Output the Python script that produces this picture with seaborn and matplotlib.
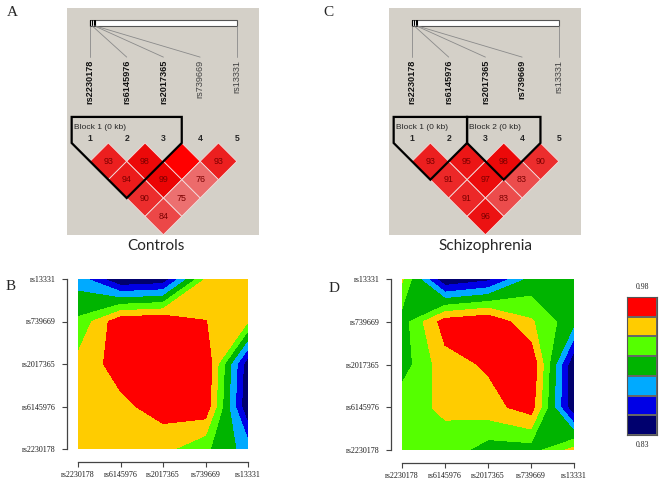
import numpy as np
import matplotlib
matplotlib.use("Agg")
import matplotlib.pyplot as plt
from matplotlib.patches import Polygon, Rectangle
from matplotlib.colors import ListedColormap
import seaborn as sns

# SNPs and their place along the gene bar (fraction of bar length)
snps = ["rs2230178", "rs6145976", "rs2017365", "rs739669", "rs13331"]
snp_pos = [0.0, 0.015, 0.03, 0.035, 1.0]

# D' x100
pairs = [(0, 1), (1, 2), (2, 3), (3, 4), (0, 2), (1, 3), (2, 4), (0, 3), (1, 4), (0, 4)]
dprime_controls = [93, 98, 100, 93, 94, 99, 76, 90, 75, 84]
dprime_scz = [93, 95, 98, 90, 91, 97, 83, 91, 83, 96]
blocks_controls = [(0, 2, "Block 1 (0 kb)")]
blocks_scz = [(0, 1, "Block 1 (0 kb)"), (2, 3, "Block 2 (0 kb)")]
bold_controls = [True, True, True, False, False]
bold_scz = [True, True, True, True, False]

# contour grids, rows go from rs2230178 (bottom) up to rs13331 (top)
grid_controls = [
    [0.945, 0.93, 0.94, 0.90, 0.84],
    [0.93, 0.955, 0.98, 0.99, 0.75],
    [0.94, 0.98, 0.99, 1.00, 0.76],
    [0.90, 0.99, 1.00, 0.965, 0.93],
    [0.84, 0.75, 0.76, 0.93, 0.95],
]
grid_scz = [
    [0.925, 0.93, 0.905, 0.905, 0.945],
    [0.93, 0.94, 0.95, 0.97, 0.83],
    [0.905, 0.95, 0.962, 0.98, 0.83],
    [0.905, 0.97, 0.98, 0.94, 0.90],
    [0.94, 0.83, 0.845, 0.90, 0.91],
]
levels_controls = [0.60, 0.786, 0.821, 0.857, 0.893, 0.929, 0.964, 1.10]
levels_scz = [0.60, 0.851, 0.873, 0.894, 0.916, 0.937, 0.959, 1.10]
band_colors = ["#00006e", "#0000e6", "#00aaff", "#00b400", "#55ff00", "#ffcc00", "#ff0000"]
legend_labels = ["0.98", "0.83"]

sns.set_style("ticks")
SERIF = "Liberation Serif"
SANS = "Liberation Sans"

W, H = 661, 484
fig = plt.figure(figsize=(W / 100, H / 100), dpi=100)


def px_axes(left, top, right, bottom):
    return fig.add_axes([left / W, 1 - bottom / H, (right - left) / W, (bottom - top) / H])


def ld_color(d):
    if d >= 100:
        return (1.0, 0.0, 0.0)
    g = (255 - 32) * 2 * (1 - d / 100.0)
    return (236 / 255, g / 255, g / 255)


def draw_ld(ax, dprime, blocks, bold):
    ax.set_facecolor("#d4d0c8")
    ax.set_xlim(-0.627, 4.605)
    ax.set_ylim(-2.507, 3.678)
    ax.set_xticks([])
    ax.set_yticks([])
    for s in ax.spines.values():
        s.set_visible(False)

    # gene bar with marker ticks and connecting lines
    ax.add_patch(Rectangle((0, 3.19), 4, 0.16, facecolor="white", edgecolor="#555555", lw=0.8))
    for i, p in enumerate(snp_pos):
        x = 4 * p
        if p < 1:
            ax.plot([x, x], [3.19, 3.35], color="black", lw=0.8)
        ax.plot([x, i], [3.19, 2.34], color="#8a8a8a", lw=0.6)
        ax.text(i, 2.27, snps[i], rotation=90, ha="center", va="top", fontsize=6.6,
                family=SANS, fontweight="bold" if bold[i] else "normal",
                color="#111111" if bold[i] else "#444444")
        ax.text(i, 0.11, str(i + 1), ha="center", va="center", fontsize=6.2,
                family=SANS, fontweight="bold")

    # D' diamonds
    for (i, j), d in zip(pairs, dprime):
        cx, cy = (i + j) / 2, -(j - i) / 2
        ax.add_patch(Polygon([(cx, cy + 0.5), (cx + 0.5, cy), (cx, cy - 0.5), (cx - 0.5, cy)],
                             closed=True, facecolor=ld_color(d), edgecolor="#f3dede", lw=0.6))
        if d < 100:
            ax.text(cx, cy, str(d), ha="center", va="center", fontsize=6.4, family=SANS,
                    color="#7a0000")

    # haplotype block outlines
    for a, b, name in blocks:
        depth = (b - a) / 2 + 0.5
        ax.add_patch(Polygon([(a - 0.5, 0.71), (a - 0.5, 0.0), ((a + b) / 2, -depth),
                              (b + 0.5, 0.0), (b + 0.5, 0.71)],
                             closed=True, fill=False, edgecolor="black", lw=1.6, zorder=5))
        ax.text(a - 0.44, 0.42, name, ha="left", va="center", fontsize=6, family=SANS)


def draw_contour(ax, grid, levels):
    idx = np.arange(len(snps))
    ax.contourf(idx, idx, np.array(grid), levels=levels, colors=band_colors, antialiased=False)
    ax.set_xlim(0, 4)
    ax.set_ylim(0, 4)
    for side in ["top", "right"]:
        ax.spines[side].set_visible(False)
    ax.spines["left"].set_position(("outward", 8))
    ax.spines["bottom"].set_position(("outward", 9))
    for side in ["left", "bottom"]:
        ax.spines[side].set_color("#444444")
        ax.spines[side].set_linewidth(0.9)
    ax.tick_params(axis="both", length=3.5, width=0.8, color="#444444",
                   labelcolor="#1a1a1a", labelsize=5.8)
    ax.tick_params(axis="x", pad=3)
    ax.tick_params(axis="y", pad=4.5)
    ax.set_xticks(idx)
    ax.set_xticklabels(snps)
    ax.set_yticks(idx)
    ax.set_yticklabels(snps)
    for lab in ax.get_xticklabels() + ax.get_yticklabels():
        lab.set_family(SERIF)
        lab.set_fontsize(5.8)


# A / C : Haploview LD plots
ax_a = px_axes(67, 8, 259, 235)
draw_ld(ax_a, dprime_controls, blocks_controls, bold_controls)
ax_c = px_axes(389, 8, 581, 235)
draw_ld(ax_c, dprime_scz, blocks_scz, bold_scz)

fig.text(156 / W, 1 - 246 / H, "Controls", ha="center", va="center", fontsize=11, family="Lato")
fig.text(485 / W, 1 - 246 / H, "Schizophrenia", ha="center", va="center", fontsize=11, family="Lato")

# B / D : contour plots
ax_b = px_axes(78, 279, 248, 449)
draw_contour(ax_b, grid_controls, levels_controls)
ax_d = px_axes(402, 279, 574, 450)
draw_contour(ax_d, grid_scz, levels_scz)

# colour key drawn as a one-column heatmap
cax = px_axes(627, 297, 657, 435)
key = np.arange(len(band_colors))[::-1].reshape(-1, 1)
sns.heatmap(key, cmap=ListedColormap(band_colors), vmin=-0.5, vmax=len(band_colors) - 0.5,
            cbar=False, xticklabels=False, yticklabels=False, linewidths=0.3,
            linecolor="#666666", ax=cax)
for s in cax.spines.values():
    s.set_visible(True)
    s.set_color("#555555")
    s.set_linewidth(0.8)
cax.text(0.5, 1.04, legend_labels[0], transform=cax.transAxes, ha="center", va="bottom",
         fontsize=5.6, family=SERIF, color="#222222")
cax.text(0.5, -0.04, legend_labels[1], transform=cax.transAxes, ha="center", va="top",
         fontsize=5.6, family=SERIF, color="#222222")

# panel letters
for letter, x, y in [("A", 12, 12), ("C", 328, 12), ("B", 11, 287), ("D", 334, 288)]:
    fig.text(x / W, 1 - y / H, letter, ha="center", va="center", fontsize=11, family=SERIF)

fig.savefig("out.png", dpi=100)
